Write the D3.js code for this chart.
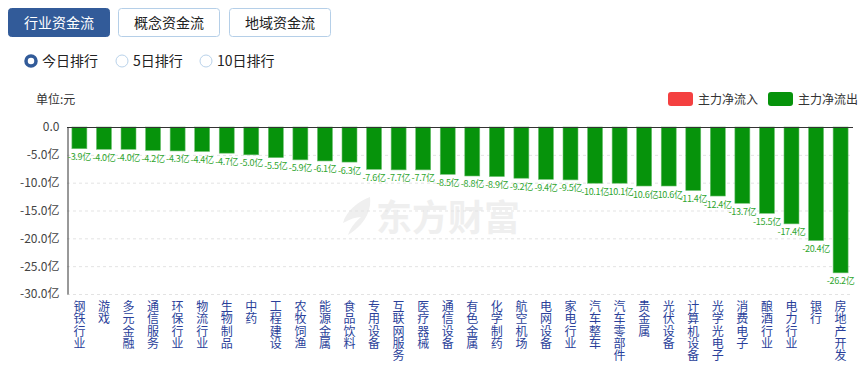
<!DOCTYPE html>
<html>
<head>
<meta charset="utf-8">
<script src="https://cdn.jsdelivr.net/npm/d3@7"></script>
<style>
  body { margin: 0; background: #fff; font-family: "Noto Sans CJK SC", "Noto Sans", sans-serif; }
  svg { display: block; }
</style>
</head>
<body>
<figure style="margin:0"></figure>
<script>
// chart data
const categories = ["钢铁行业", "游戏", "多元金融", "通信服务", "环保行业", "物流行业", "生物制品", "中药",
  "工程建设", "农牧饲渔", "能源金属", "食品饮料", "专用设备", "互联网服务", "医疗器械", "通信设备",
  "有色金属", "化学制药", "航空机场", "电网设备", "家电行业", "汽车整车", "汽车零部件", "贵金属",
  "光伏设备", "计算机设备", "光学光电子", "消费电子", "酿酒行业", "电力行业", "银行", "房地产开发"];
const netFlow = [-3.9, -4.0, -4.0, -4.2, -4.3, -4.4, -4.7, -5.0, -5.5, -5.9, -6.1, -6.3, -7.6, -7.7, -7.7, -8.5,
  -8.8, -8.9, -9.2, -9.4, -9.5, -10.1, -10.1, -10.6, -10.6, -11.4, -12.4, -13.7, -15.5, -17.4, -20.4, -26.2];
const yTicks = [0, -5, -10, -15, -20, -25, -30];
const tabs = ["行业资金流", "概念资金流", "地域资金流"];
const ranks = ["今日排行", "5日排行", "10日排行"];
const legendItems = ["主力净流入", "主力净流出"];

const width = 861, height = 372;
const lpad = 67, rpad = 853, tpad = 127, bpad = 294;
const green = "#06930b", red = "#f44040";

const svg = d3.select("figure").append("svg")
    .attr("width", width)
    .attr("height", height);

// tab buttons
const tabX = [8, 118, 229];
const tab = svg.selectAll("g.tab")
    .data(tabs)
    .enter().append("g")
    .attr("class", "tab")
    .attr("transform", (d, i) => "translate(" + tabX[i] + ",8)");
tab.append("rect")
    .attr("x", 0.5).attr("y", 0.5)
    .attr("width", 101).attr("height", 28)
    .attr("rx", 3)
    .attr("fill", (d, i) => i === 0 ? "#325b99" : "#fff")
    .attr("stroke", (d, i) => i === 0 ? "#325b99" : "#b5cfe8");
tab.append("text")
    .attr("x", 51).attr("y", 19.5)
    .attr("text-anchor", "middle")
    .attr("font-size", 14)
    .attr("fill", (d, i) => i === 0 ? "#fff" : "#222")
    .text(d => d);

// radio buttons
const radioX = [31, 122, 206];
const radio = svg.selectAll("g.radio")
    .data(ranks)
    .enter().append("g")
    .attr("class", "radio")
    .attr("transform", (d, i) => "translate(" + radioX[i] + ",61)");
radio.append("circle")
    .attr("r", (d, i) => i === 0 ? 5 : 6)
    .attr("fill", "#fff")
    .attr("stroke", (d, i) => i === 0 ? "#325b99" : "#b9d2ea")
    .attr("stroke-width", (d, i) => i === 0 ? 3.5 : 1);
radio.append("text")
    .attr("x", 11).attr("y", 5)
    .attr("font-size", 14)
    .attr("fill", "#222")
    .text(d => d);

// unit label
svg.append("text")
    .attr("x", 36).attr("y", 104)
    .attr("font-size", 12)
    .attr("fill", "#333")
    .text("单位:元");

// legend
const legend = svg.selectAll("g.legend")
    .data(legendItems)
    .enter().append("g")
    .attr("class", "legend")
    .attr("transform", (d, i) => "translate(" + (668 + i * 100) + ",92)");
legend.append("rect")
    .attr("width", 25).attr("height", 14)
    .attr("rx", 3)
    .attr("fill", (d, i) => i === 0 ? red : green);
legend.append("text")
    .attr("x", 30).attr("y", 11.5)
    .attr("font-size", 12)
    .attr("fill", "#333")
    .text(d => d);

// watermark
const wm = svg.append("g").attr("transform", "translate(340,196)");
wm.append("path")
    .attr("d", "M30,1 C19,5 6,15 3,27 C10,23 16,21 21,21 C14,27 10,33 8,39 C21,31 32,18 30,1 Z")
    .attr("fill", "#efefef");
wm.append("text")
    .attr("x", 36).attr("y", 35)
    .attr("font-size", 36)
    .attr("font-weight", "bold")
    .attr("fill", "#efefef")
    .text("东方财富");

// scales
const xScale = d3.scaleBand()
    .domain(categories)
    .range([lpad, rpad])
    .paddingInner(0.39)
    .paddingOuter(0.2);

const yScale = d3.scaleLinear()
    .domain([0, -30])
    .range([tpad, bpad]);

// grid lines
svg.append("g")
    .selectAll("line")
    .data(yTicks.filter(d => d !== 0))
    .enter().append("line")
    .attr("x1", lpad).attr("x2", rpad)
    .attr("y1", d => yScale(d) + 0.5).attr("y2", d => yScale(d) + 0.5)
    .attr("stroke", "#e3e3e3")
    .attr("stroke-dasharray", "3,3");

// y axis
const yAxis = svg.append("g")
    .attr("transform", "translate(" + (lpad + 0.5) + ",0)")
    .call(d3.axisLeft(yScale)
        .tickValues(yTicks)
        .tickSize(0)
        .tickPadding(8)
        .tickFormat(d => d === 0 ? "0.0" : d.toFixed(1) + "亿"));
yAxis.select(".domain").attr("stroke", "#333");
yAxis.selectAll("text")
    .attr("font-family", "Noto Sans CJK SC, sans-serif")
    .attr("font-size", 12)
    .attr("fill", "#444");

// bars
const bars = svg.selectAll("g.bar")
    .data(netFlow)
    .enter().append("g")
    .attr("class", "bar")
    .attr("transform", (d, i) => "translate(" + xScale(categories[i]) + ",0)");

bars.append("rect")
    .attr("y", yScale(0))
    .attr("width", xScale.bandwidth())
    .attr("height", d => yScale(d) - yScale(0))
    .attr("fill", d => d < 0 ? green : red)
    .attr("stroke", "#6cc06f")
    .attr("stroke-width", 0.6);

bars.append("text")
    .attr("x", xScale.bandwidth() / 2)
    .attr("y", d => yScale(d) + 11.5)
    .attr("text-anchor", "middle")
    .attr("font-size", 9)
    .attr("letter-spacing", -0.3)
    .attr("fill", "#2ea52e")
    .text(d => d.toFixed(1) + "亿");

// zero line
svg.append("line")
    .attr("x1", lpad).attr("x2", rpad)
    .attr("y1", yScale(0) + 0.5).attr("y2", yScale(0) + 0.5)
    .attr("stroke", "#333");

// vertical category labels, one character per line
const xLabels = svg.selectAll("text.cat")
    .data(categories)
    .enter().append("text")
    .attr("class", "cat")
    .attr("text-anchor", "middle")
    .attr("font-size", 12)
    .attr("fill", "#2a3f9a");
xLabels.selectAll("tspan")
    .data(d => d.split(""))
    .enter().append("tspan")
    .attr("x", function () { const c = d3.select(this.parentNode).datum(); return xScale(c) + xScale.bandwidth() / 2; })
    .attr("y", (ch, j) => 311 + j * 12.3)
    .text(ch => ch);
</script>
</body>
</html>
